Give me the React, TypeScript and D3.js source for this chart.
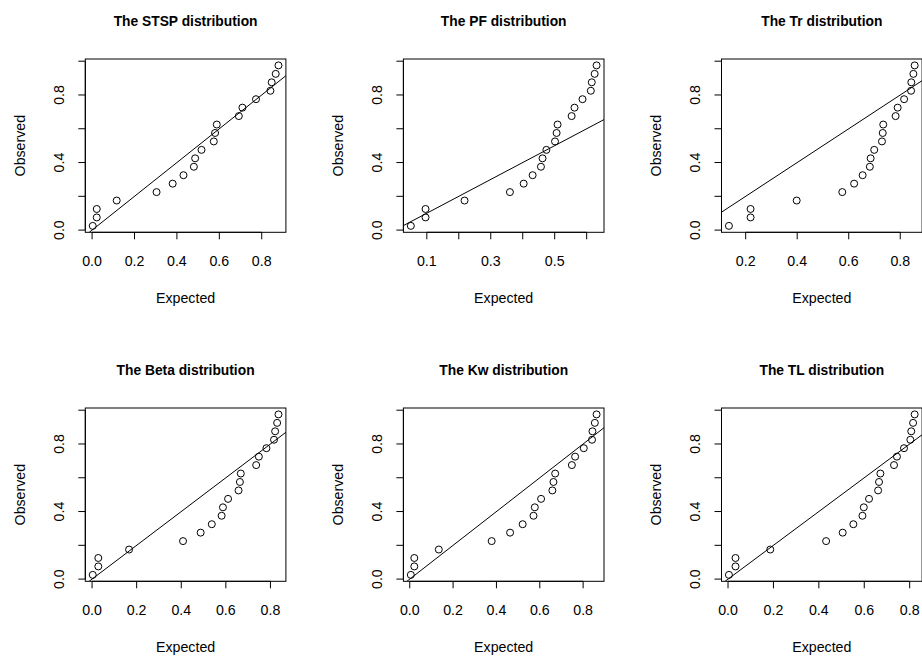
import React from 'react';
import * as d3 from 'd3';

// constants
const width = 922;
const height = 658;
const font = '"Liberation Sans", Arial, Helvetica, sans-serif';
const labelSize = 14.2;

// plot boxes (R mfrow = c(2,3))
const boxLeft = 85.3;
const boxTop = 59;
const colStep = 318.1;
const rowStep = 349;
const boxW = 200.6;
const boxH = 173.3;

// data
const titles = [
  'The STSP distribution',
  'The PF distribution',
  'The Tr distribution',
  'The Beta distribution',
  'The Kw distribution',
  'The TL distribution',
];

const observed = [0.025, 0.075, 0.125, 0.175, 0.225, 0.275, 0.325, 0.375, 0.425, 0.475,
  0.525, 0.575, 0.625, 0.675, 0.725, 0.775, 0.825, 0.875, 0.925, 0.975];

const stspExpected = [0.003, 0.022, 0.022, 0.116, 0.304, 0.380, 0.431, 0.480, 0.486, 0.516,
  0.574, 0.580, 0.588, 0.692, 0.709, 0.773, 0.841, 0.847, 0.866, 0.879];
const pfExpected = [0.050, 0.096, 0.096, 0.218, 0.360, 0.403, 0.431, 0.457, 0.462, 0.474,
  0.501, 0.506, 0.509, 0.553, 0.562, 0.587, 0.613, 0.616, 0.625, 0.631];
const trExpected = [0.135, 0.219, 0.219, 0.398, 0.575, 0.621, 0.654, 0.682, 0.685, 0.699,
  0.729, 0.732, 0.734, 0.782, 0.790, 0.815, 0.842, 0.843, 0.851, 0.856];
const betaExpected = [0.003, 0.028, 0.028, 0.166, 0.408, 0.487, 0.537, 0.581, 0.587, 0.610,
  0.657, 0.663, 0.667, 0.736, 0.748, 0.782, 0.816, 0.821, 0.830, 0.836];
const kwExpected = [0.005, 0.021, 0.021, 0.134, 0.378, 0.463, 0.521, 0.571, 0.577, 0.606,
  0.658, 0.663, 0.671, 0.748, 0.763, 0.803, 0.841, 0.843, 0.854, 0.862];
const tlExpected = [0.004, 0.033, 0.033, 0.186, 0.432, 0.505, 0.552, 0.592, 0.598, 0.621,
  0.661, 0.665, 0.671, 0.731, 0.744, 0.775, 0.803, 0.807, 0.815, 0.822];

const expectedSets = [stspExpected, pfExpected, trExpected, betaExpected, kwExpected, tlExpected];

// tick labels
const xTickSets = [
  [0.0, 0.2, 0.4, 0.6, 0.8],
  [0.1, 0.2, 0.3, 0.4, 0.5, 0.6],
  [0.2, 0.4, 0.6, 0.8],
  [0.0, 0.2, 0.4, 0.6, 0.8],
  [0.0, 0.2, 0.4, 0.6, 0.8],
  [0.0, 0.2, 0.4, 0.6, 0.8],
];
const xLabelSets = [
  ['0.0', '0.2', '0.4', '0.6', '0.8'],
  ['0.1', '', '0.3', '', '0.5', ''],
  ['0.2', '0.4', '0.6', '0.8'],
  ['0.0', '0.2', '0.4', '0.6', '0.8'],
  ['0.0', '0.2', '0.4', '0.6', '0.8'],
  ['0.0', '0.2', '0.4', '0.6', '0.8'],
];
const yTicks = [0.0, 0.2, 0.4, 0.6, 0.8, 1.0];
const yLabels = ['0.0', '', '0.4', '', '0.8', ''];

// R style range: data extent widened by 4%
const rRange = (v: number[]) => {
  const [lo, hi] = d3.extent(v) as [number, number];
  const pad = (hi - lo) * 0.04;
  return [lo - pad, hi + pad];
};

const tick = 7;

const Panel = ({ i }: { i: number }) => {
  const col = i % 3;
  const row = Math.floor(i / 3);
  const x0 = boxLeft + col * colStep;
  const y0 = boxTop + row * rowStep;
  const expected = expectedSets[i];

  const xScale = d3.scaleLinear().domain(rRange(expected)).range([x0, x0 + boxW]);
  const yScale = d3.scaleLinear().domain(rRange(observed)).range([y0 + boxH, y0]);
  const [d0, d1] = xScale.domain();
  const xTicks = xTickSets[i];
  const xLabels = xLabelSets[i];
  const cx = x0 + boxW / 2;
  const cy = y0 + boxH / 2;
  const clipId = `clip-${i}`;

  return (
    <g>
      <defs>
        <clipPath id={clipId}>
          <rect x={x0} y={y0} width={boxW} height={boxH} />
        </clipPath>
      </defs>
      {/* title */}
      <text x={cx} y={y0 - 33.5} textAnchor="middle" fontWeight="bold" fontSize={13.8}>
        {titles[i]}
      </text>
      {/* box */}
      <rect x={x0} y={y0} width={boxW} height={boxH} fill="none" stroke="#000" strokeWidth={1} />
      {/* x axis */}
      <line x1={xScale(xTicks[0])} x2={xScale(xTicks[xTicks.length - 1])}
        y1={y0 + boxH} y2={y0 + boxH} stroke="#000" />
      {xTicks.map((t, k) => (
        <g key={`xt${k}`}>
          <line x1={xScale(t)} x2={xScale(t)} y1={y0 + boxH} y2={y0 + boxH + tick} stroke="#000" />
          <text x={xScale(t)} y={y0 + boxH + 33.8} textAnchor="middle" fontSize={labelSize}>{xLabels[k]}</text>
        </g>
      ))}
      <text x={cx} y={y0 + boxH + 70.5} textAnchor="middle" fontSize={labelSize}>Expected</text>
      {/* y axis */}
      <line x1={x0} x2={x0} y1={yScale(yTicks[0])} y2={yScale(yTicks[yTicks.length - 1])} stroke="#000" />
      {yTicks.map((t, k) => (
        <g key={`yt${k}`}>
          <line x1={x0 - tick} x2={x0} y1={yScale(t)} y2={yScale(t)} stroke="#000" />
          <text transform={`translate(${x0 - 21.5},${yScale(t)}) rotate(-90)`} textAnchor="middle" fontSize={labelSize}>
            {yLabels[k]}
          </text>
        </g>
      ))}
      <text transform={`translate(${x0 - 60.5},${cy}) rotate(-90)`} textAnchor="middle" fontSize={labelSize}>
        Observed
      </text>
      {/* reference line y = x */}
      <line x1={xScale(d0)} y1={yScale(d0)} x2={xScale(d1)} y2={yScale(d1)}
        stroke="#000" strokeWidth={1} clipPath={`url(#${clipId})`} />
      {/* points */}
      {expected.map((e, k) => (
        <circle key={k} cx={xScale(e)} cy={yScale(observed[k])} r={3.5}
          fill="none" stroke="#000" strokeWidth={1} />
      ))}
    </g>
  );
};

const App = () => {
  return (
    <svg width={width} height={height} fontFamily={font}
      style={{ position: 'absolute', left: 0, top: 0, background: '#fff' }}>
      <rect width={width} height={height} fill="#fff" />
      {titles.map((t, i) => <Panel key={t} i={i} />)}
    </svg>
  );
};

export default App;
